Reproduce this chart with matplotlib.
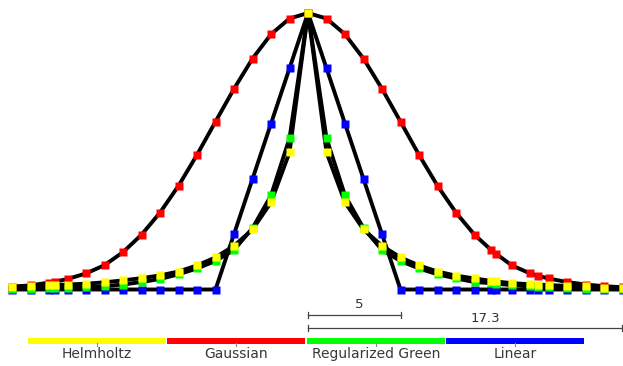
import matplotlib
matplotlib.use("Agg")
import matplotlib.pyplot as plt
from matplotlib import transforms

# ---- data ----
x = [-16, -15, -14, -13.7, -13, -12, -11, -10, -9, -8, -7, -6, -5, -4, -3, -2, -1, 0,
     1, 2, 3, 4, 5, 6, 7, 8, 9, 9.9, 10.15, 11, 12, 12.45, 13, 14, 15, 16, 17]

helmholtz = [0.010, 0.012, 0.015, 0.016, 0.018, 0.021, 0.026, 0.033, 0.041, 0.051, 0.065, 0.087,
             0.116, 0.158, 0.217, 0.315, 0.496, 1.0,
             0.496, 0.315, 0.217, 0.158, 0.116, 0.087, 0.065, 0.050, 0.040, 0.031, 0.029, 0.023,
             0.019, 0.018, 0.016, 0.013, 0.011, 0.007, 0.006]

gaussian = [0.010, 0.015, 0.025, 0.028, 0.038, 0.058, 0.088, 0.135, 0.198, 0.278, 0.375, 0.487,
            0.607, 0.726, 0.835, 0.923, 0.980, 1.0,
            0.980, 0.923, 0.835, 0.726, 0.607, 0.487, 0.375, 0.278, 0.198, 0.143, 0.130, 0.088,
            0.058, 0.049, 0.040, 0.027, 0.018, 0.012, 0.008]

reg_green = [0.002, 0.003, 0.004, 0.004, 0.006, 0.008, 0.012, 0.018, 0.027, 0.038, 0.055, 0.076,
             0.103, 0.143, 0.222, 0.340, 0.547, 1.0,
             0.547, 0.340, 0.222, 0.143, 0.103, 0.076, 0.055, 0.040, 0.027, 0.023, 0.021, 0.016,
             0.011, 0.010, 0.008, 0.005, 0.003, 0.002, 0.001]

linear = [0, 0, 0, 0, 0, 0, 0, 0, 0, 0, 0, 0,
          0, 0.2, 0.4, 0.6, 0.8, 1.0,
          0.8, 0.6, 0.4, 0.2, 0, 0, 0, 0, 0, 0, 0, 0,
          0, 0, 0, 0, 0, 0, 0]

legend_names = ["Helmholtz", "Gaussian", "Regularized Green", "Linear"]
legend_colors = ["#ffff00", "#ff0000", "#00ff00", "#0000ff"]

scale_labels = ["5", "17.3"]
scale_lengths = [5.0, 17.3]

# ---- figure ----
W, H = 623, 366
fig = plt.figure(figsize=(W / 100, H / 100), dpi=100)
fig.patch.set_facecolor("white")

# pixel overlay axes (for legend)
pax = fig.add_axes([0, 0, 1, 1])
pax.set_xlim(0, W)
pax.set_ylim(H, 0)
pax.axis("off")

# main data axes
ax = fig.add_axes([0, 0, 1, 1])
ax.patch.set_alpha(0)
px_per_unit = 18.5
x0_px = 308
y0_px, y1_px = 289.5, 13.0
ax.set_xlim(-x0_px / px_per_unit, (W - x0_px) / px_per_unit)
sy = y0_px - y1_px
ax.set_ylim((y0_px - H) / sy, y0_px / sy)
ax.axis("off")

series = [("Linear", linear, "#0000ff"),
          ("Regularized Green", reg_green, "#00ff00"),
          ("Gaussian", gaussian, "#ff0000"),
          ("Helmholtz", helmholtz, "#ffff00")]

for name, vals, col in series:
    ax.plot(x, vals, color="black", lw=2.8, zorder=2, solid_joinstyle="round")
for k, (name, vals, col) in enumerate(series):
    ax.plot(x, vals, linestyle="none", marker="s", ms=5.2, mfc=col, mec="none", zorder=3 + k)

# ---- scale bars (data x, pixel y) ----
trans = transforms.blended_transform_factory(ax.transData, pax.transData)
bar_y = [315, 328]
xmax = ax.get_xlim()[1]
for lab, L, yb in zip(scale_labels, scale_lengths, bar_y):
    xe = min(L, xmax - 0.07)
    ax.plot([0, xe], [yb, yb], color="#444444", lw=0.9, transform=trans, clip_on=False, zorder=5)
    for xt in (0, xe):
        ax.plot([xt, xt], [yb - 3, yb + 3], color="#444444", lw=0.9, transform=trans,
                clip_on=False, zorder=5)
    ax.text(L * 0.555, yb - 3.5, lab, transform=trans, ha="center", va="bottom",
            fontsize=9.5, color="#333333", family="DejaVu Sans")

# ---- legend (colour bar style) ----
seg_starts = [28, 167, 307, 446]
seg_w = 138
for name, col, xs in zip(legend_names, legend_colors, seg_starts):
    pax.add_patch(plt.Rectangle((xs, 338), seg_w, 5.5, facecolor=col, edgecolor="none", zorder=2))
    cx = xs + seg_w / 2
    pax.plot([cx, cx], [343, 346], color="#888888", lw=0.8, zorder=3)
    pax.text(cx, 358, name, ha="center", va="baseline", fontsize=10,
             color="#383838", family="DejaVu Sans")

fig.savefig("out.png", dpi=100, facecolor="white")
